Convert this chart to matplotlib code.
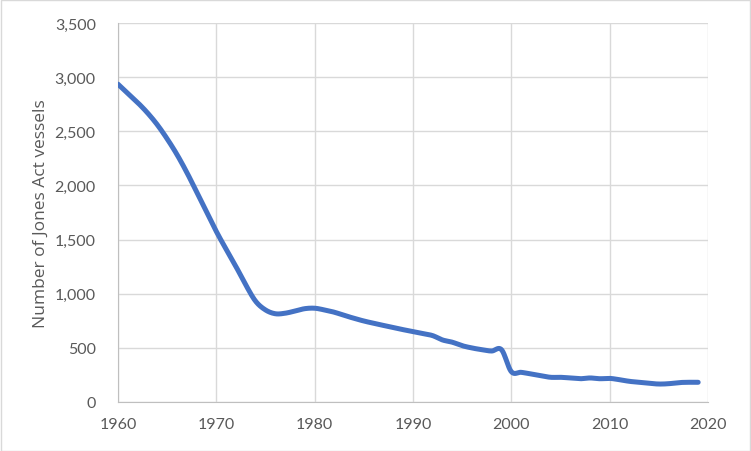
import numpy as np
import matplotlib
matplotlib.use("Agg")
import matplotlib.pyplot as plt
from matplotlib.patches import Rectangle

years = list(range(1960, 2020))
vessels = [2935, 2850, 2765, 2670, 2560, 2430, 2285, 2120, 1940, 1760,
           1575, 1410, 1250, 1080, 930, 850, 815, 820, 840, 862,
           866, 850, 829, 800, 773, 748, 727, 707, 687, 668,
           650, 632, 613, 573, 552, 520, 499, 483, 471, 483,
           280, 274, 259, 243, 228, 228, 222, 215, 222, 215,
           218, 206, 191, 182, 173, 166, 169, 179, 182, 182]

y_ticks = [0, 500, 1000, 1500, 2000, 2500, 3000, 3500]
x_ticks = [1960, 1970, 1980, 1990, 2000, 2010, 2020]
y_label = "Number of Jones Act vessels"


def catmull_rom(x, y, n=20):
    x = np.asarray(x, float)
    y = np.asarray(y, float)
    px = np.concatenate([[2 * x[0] - x[1]], x, [2 * x[-1] - x[-2]]])
    py = np.concatenate([[2 * y[0] - y[1]], y, [2 * y[-1] - y[-2]]])
    xs, ys = [], []
    t = np.linspace(0, 1, n, endpoint=False)
    for i in range(1, len(px) - 2):
        p0, p1, p2, p3 = py[i - 1], py[i], py[i + 1], py[i + 2]
        q0, q1, q2, q3 = px[i - 1], px[i], px[i + 1], px[i + 2]
        b1y = p1 + (p2 - p0) / 6
        b2y = p2 - (p3 - p1) / 6
        b1x = q1 + (q2 - q0) / 6
        b2x = q2 - (q3 - q1) / 6
        xs.append((1 - t) ** 3 * q1 + 3 * (1 - t) ** 2 * t * b1x + 3 * (1 - t) * t ** 2 * b2x + t ** 3 * q2)
        ys.append((1 - t) ** 3 * p1 + 3 * (1 - t) ** 2 * t * b1y + 3 * (1 - t) * t ** 2 * b2y + t ** 3 * p2)
    xs.append([x[-1]])
    ys.append([y[-1]])
    return np.concatenate(xs), np.concatenate(ys)


fig = plt.figure(figsize=(7.51, 4.52), dpi=100)
fig.patch.set_facecolor("white")
fig.patches.append(Rectangle((0.001, 0.001), 0.998, 0.997, transform=fig.transFigure,
                             fill=False, edgecolor="#D9D9D9", linewidth=1.0))

ax = fig.add_axes([118 / 751, 1 - 403 / 452, (708 - 118) / 751, (403 - 24) / 452])
sx, sy = catmull_rom(years, vessels)
ax.plot(sx, sy, color="#4472C4", linewidth=3.6, solid_capstyle="round", zorder=3)

ax.set_xlim(1960, 2020)
ax.set_ylim(0, 3500)
ax.set_xticks(x_ticks)
ax.set_yticks(y_ticks)
ax.set_yticklabels([f"{v:,}" for v in y_ticks])
ax.grid(True, color="#D9D9D9", linewidth=1.0)
ax.set_axisbelow(True)
for s in ["top", "right"]:
    ax.spines[s].set_visible(False)
ax.spines["left"].set_color("#BFBFBF")
ax.spines["bottom"].set_color("#BFBFBF")
ax.tick_params(length=0, labelcolor="#595959", labelsize=11.5)
ax.tick_params(axis="y", pad=16)
ax.tick_params(axis="x", pad=11)
for lab in ax.get_xticklabels() + ax.get_yticklabels():
    lab.set_family("Lato")
ax.set_ylabel(y_label, fontsize=12.5, color="#595959", family="Open Sans", labelpad=4)

fig.savefig("out.png", dpi=100)
